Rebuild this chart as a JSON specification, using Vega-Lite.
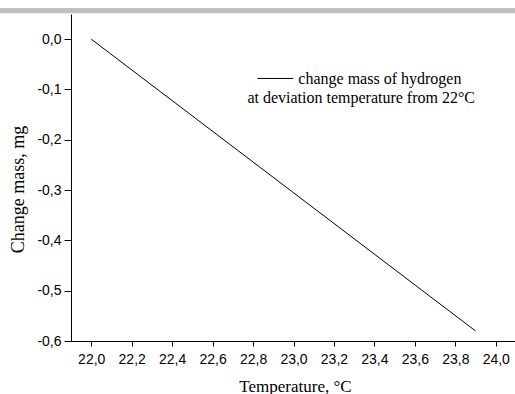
{
  "$schema": "https://vega.github.io/schema/vega-lite/v6.json",
  "width": 445,
  "height": 327,
  "autosize": {"type": "none"},
  "padding": {"left": 71, "top": 14, "right": 0, "bottom": 53},
  "background": "white",
  "config": {
    "view": {"stroke": null},
    "axis": {
      "grid": false,
      "domainColor": "#000000",
      "domainWidth": 1,
      "tickColor": "#000000",
      "tickWidth": 1,
      "labelColor": "#000000",
      "titleColor": "#000000",
      "labelFont": "Liberation Sans",
      "labelFontSize": 14,
      "labelOverlap": false,
      "titleFont": "Liberation Serif",
      "titleFontSize": 17,
      "titleFontWeight": "normal"
    }
  },
  "datasets": {
    "mass": [
      {"temperature": 22.0, "change": 0.0},
      {"temperature": 23.9, "change": -0.58}
    ]
  },
  "layer": [
    {
      "data": {"name": "mass"},
      "mark": {"type": "line", "color": "#000000", "strokeWidth": 1},
      "encoding": {
        "x": {
          "field": "temperature",
          "type": "quantitative",
          "scale": {"domain": [21.9, 24.1], "nice": false, "zero": false},
          "axis": {
            "values": [22, 22.1, 22.2, 22.3, 22.4, 22.5, 22.6, 22.7, 22.8, 22.9, 23, 23.1, 23.2, 23.3, 23.4, 23.5, 23.6, 23.7, 23.8, 23.9, 24],
            "labelExpr": "round(datum.value*10)%2==0 ? replace(format(datum.value,'.1f'),'.',',') : ''",
            "tickSize": 5,
            "tickDash": {"condition": {"test": "round(datum.value*10)%2==0", "value": [5, 0]}, "value": [3, 20]},
            "labelPadding": 6,
            "labelFlush": false,
            "labelOverlap": false,
            "title": "Temperature, °C",
            "titleX": 224,
            "titleY": 50,
            "titleBaseline": "alphabetic"
          }
        },
        "y": {
          "field": "change",
          "type": "quantitative",
          "scale": {"domain": [-0.6, 0.05], "nice": false, "zero": false},
          "axis": {
            "values": [-0.6, -0.55, -0.5, -0.45, -0.4, -0.35, -0.3, -0.25, -0.2, -0.15, -0.1, -0.05, 0.0, 0.05],
            "labelExpr": "round(datum.value*100)%10==0 ? replace(replace(format(datum.value,'.1f'),'.',','),'−','-') : ''",
            "tickSize": 7,
            "tickDash": {"condition": {"test": "round(datum.value*100)%10==0", "value": [7, 0]}, "value": [4, 20]},
            "labelPadding": 3,
            "labelFlush": false,
            "labelOverlap": false,
            "title": "Change mass, mg",
            "titleFontSize": 18,
            "titleX": -48,
            "titleY": 175,
            "titleAngle": -90,
            "titleAlign": "center",
            "titleBaseline": "alphabetic"
          }
        }
      }
    },
    {
      "data": {"values": [{}]},
      "mark": {"type": "rect", "color": "#c0c0c0", "clip": false},
      "encoding": {
        "x": {"datum": 21.5, "type": "quantitative"},
        "x2": {"datum": 24.3},
        "y": {"datum": 0.0517, "type": "quantitative"},
        "y2": {"datum": 0.062}
      }
    },
    {
      "data": {"values": [{}]},
      "mark": {"type": "rule", "color": "#000000", "strokeWidth": 1},
      "encoding": {
        "x": {"datum": 22.822, "type": "quantitative"},
        "x2": {"datum": 22.999},
        "y": {"datum": -0.0781, "type": "quantitative"}
      }
    },
    {
      "data": {"values": [{"label": "change mass of hydrogen"}]},
      "mark": {"type": "text", "align": "left", "baseline": "alphabetic", "font": "Liberation Serif", "fontSize": 16, "color": "#000000"},
      "encoding": {
        "x": {"datum": 23.024, "type": "quantitative"},
        "y": {"datum": -0.0884, "type": "quantitative"},
        "text": {"field": "label"}
      }
    },
    {
      "data": {"values": [{"label": "at deviation temperature from 22°C"}]},
      "mark": {"type": "text", "align": "left", "baseline": "alphabetic", "font": "Liberation Serif", "fontSize": 16, "color": "#000000"},
      "encoding": {
        "x": {"datum": 22.772, "type": "quantitative"},
        "y": {"datum": -0.1272, "type": "quantitative"},
        "text": {"field": "label"}
      }
    }
  ]
}
